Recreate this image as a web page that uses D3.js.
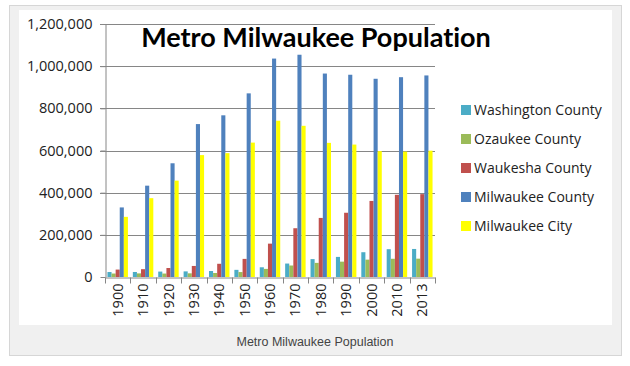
<!DOCTYPE html>
<html>
<head>
<meta charset="utf-8">
<script src="https://cdn.jsdelivr.net/npm/d3@7"></script>
<style>
  body { margin: 0; background: #fff; }
  text { font-variant-ligatures: none; }
</style>
</head>
<body>
<div class="chart"></div>
<script>
// values
var years = ["1900", "1910", "1920", "1930", "1940", "1950", "1960", "1970", "1980", "1990", "2000", "2010", "2013"];
var seriesNames = ["Washington County", "Ozaukee County", "Waukesha County", "Milwaukee County", "Milwaukee City"];
var washington = [23600, 23800, 25700, 26600, 28400, 33900, 46100, 63800, 84800, 95300, 117500, 131900, 133000];
var ozaukee = [16400, 17100, 16300, 17400, 19000, 23400, 38400, 54500, 67000, 72800, 82300, 86400, 87000];
var waukesha = [35200, 37100, 42600, 52400, 62700, 85900, 158200, 231300, 280200, 304700, 360800, 389900, 393000];
var milwaukeeCounty = [330000, 433200, 539400, 725300, 766900, 871000, 1036000, 1054200, 965000, 959300, 940200, 947700, 956000];
var milwaukeeCity = [285300, 373900, 457100, 578200, 587500, 637400, 741300, 717100, 636200, 628100, 597000, 594800, 599200];
var yTicks = [0, 200000, 400000, 600000, 800000, 1000000, 1200000];
var colors = ["#4bacc6", "#9bbb59", "#c0504d", "#4f81bd", "#ffff00"];

var series = [washington, ozaukee, waukesha, milwaukeeCounty, milwaukeeCity];

var W = 630, H = 366;
var svg = d3.select(".chart").append("svg")
    .attr("width", W)
    .attr("height", H);

// frame + white panel
svg.append("rect")
    .attr("x", 9.5).attr("y", 5.5).attr("width", 612).attr("height", 350)
    .attr("fill", "#f0f0f0").attr("stroke", "#d6d6d6");
svg.append("rect")
    .attr("x", 19).attr("y", 10).attr("width", 593).attr("height", 315)
    .attr("fill", "#fff");

svg.append("text")
    .attr("x", 315).attr("y", 346)
    .attr("text-anchor", "middle")
    .style("font-family", "'Liberation Sans', Arial, sans-serif")
    .style("font-size", "12.5px")
    .style("fill", "#444")
    .text("Metro Milwaukee Population");

var plotLeft = 105, plotRight = 435, plotTop = 24, plotBottom = 277;

var x = d3.scaleBand().domain(years).range([plotLeft, plotRight]).paddingInner(0).paddingOuter(0);
var y = d3.scaleLinear().domain([0, 1200000]).range([plotBottom, plotTop]);
var xs = d3.scaleBand().domain(d3.range(5)).range([0, x.bandwidth()]).paddingOuter(0.6).paddingInner(0);

// gridlines
svg.append("g")
  .selectAll("line")
  .data(yTicks.slice(1))
  .enter().append("line")
    .attr("x1", plotLeft - 5).attr("x2", plotRight)
    .attr("y1", function(d) { return Math.round(y(d)) + 0.5; })
    .attr("y2", function(d) { return Math.round(y(d)) + 0.5; })
    .attr("stroke", "#868686");

// bars
series.forEach(function(vals, i) {
  svg.append("g")
    .selectAll("rect")
    .data(vals)
    .enter().append("rect")
      .attr("x", function(d, j) { return x(years[j]) + xs(i); })
      .attr("y", function(d) { return y(d); })
      .attr("width", xs.bandwidth())
      .attr("height", function(d) { return plotBottom - y(d); })
      .attr("fill", colors[i]);
});

// y axis
var yAxis = svg.append("g")
    .attr("transform", "translate(" + (plotLeft + 0.5) + ",0)")
    .call(d3.axisLeft(y).tickValues(yTicks).tickSize(5).tickSizeOuter(0).tickPadding(8).tickFormat(d3.format(",")));
yAxis.select(".domain").attr("stroke", "#868686");
yAxis.selectAll(".tick line").attr("stroke", "#868686");
yAxis.selectAll("text")
    .style("font-family", "'Open Sans', sans-serif")
    .style("font-size", "14.5px")
    .style("fill", "#222");

// x axis
var xAxis = svg.append("g")
    .attr("transform", "translate(0," + (plotBottom + 0.5) + ")")
    .call(d3.axisBottom(x).tickSize(0).tickSizeOuter(0));
xAxis.select(".domain").attr("stroke", "#868686");
xAxis.selectAll(".tick text")
    .attr("transform", "rotate(-90)")
    .attr("x", -6).attr("y", 0).attr("dy", "0.35em")
    .style("text-anchor", "end")
    .style("font-family", "'Open Sans', sans-serif")
    .style("font-size", "14.5px")
    .style("fill", "#222");
// tick marks at band boundaries
xAxis.append("g")
  .selectAll("line")
  .data(years.concat(["end"]))
  .enter().append("line")
    .attr("x1", function(d, i) { return Math.round(plotLeft + i * x.bandwidth()) + 0.5; })
    .attr("x2", function(d, i) { return Math.round(plotLeft + i * x.bandwidth()) + 0.5; })
    .attr("y1", 0).attr("y2", 6)
    .attr("stroke", "#868686");

// title
svg.append("text")
    .attr("x", 316).attr("y", 47)
    .attr("text-anchor", "middle")
    .style("font-family", "Lato, sans-serif")
    .style("font-weight", "bold")
    .style("font-size", "27px")
    .style("fill", "#000")
    .text("Metro Milwaukee Population");

// legend
var legend = svg.append("g")
  .selectAll("g")
  .data(seriesNames)
  .enter().append("g")
    .attr("transform", function(d, i) { return "translate(461," + (110 + i * 29) + ")"; });
legend.append("rect")
    .attr("x", 0).attr("y", -5).attr("width", 10).attr("height", 10)
    .attr("fill", function(d, i) { return colors[i]; });
legend.append("text")
    .attr("x", 13).attr("y", 0).attr("dy", "0.35em")
    .style("font-family", "'Open Sans', sans-serif")
    .style("font-size", "14px")
    .style("fill", "#222")
    .text(function(d) { return d; });
</script>
</body>
</html>
